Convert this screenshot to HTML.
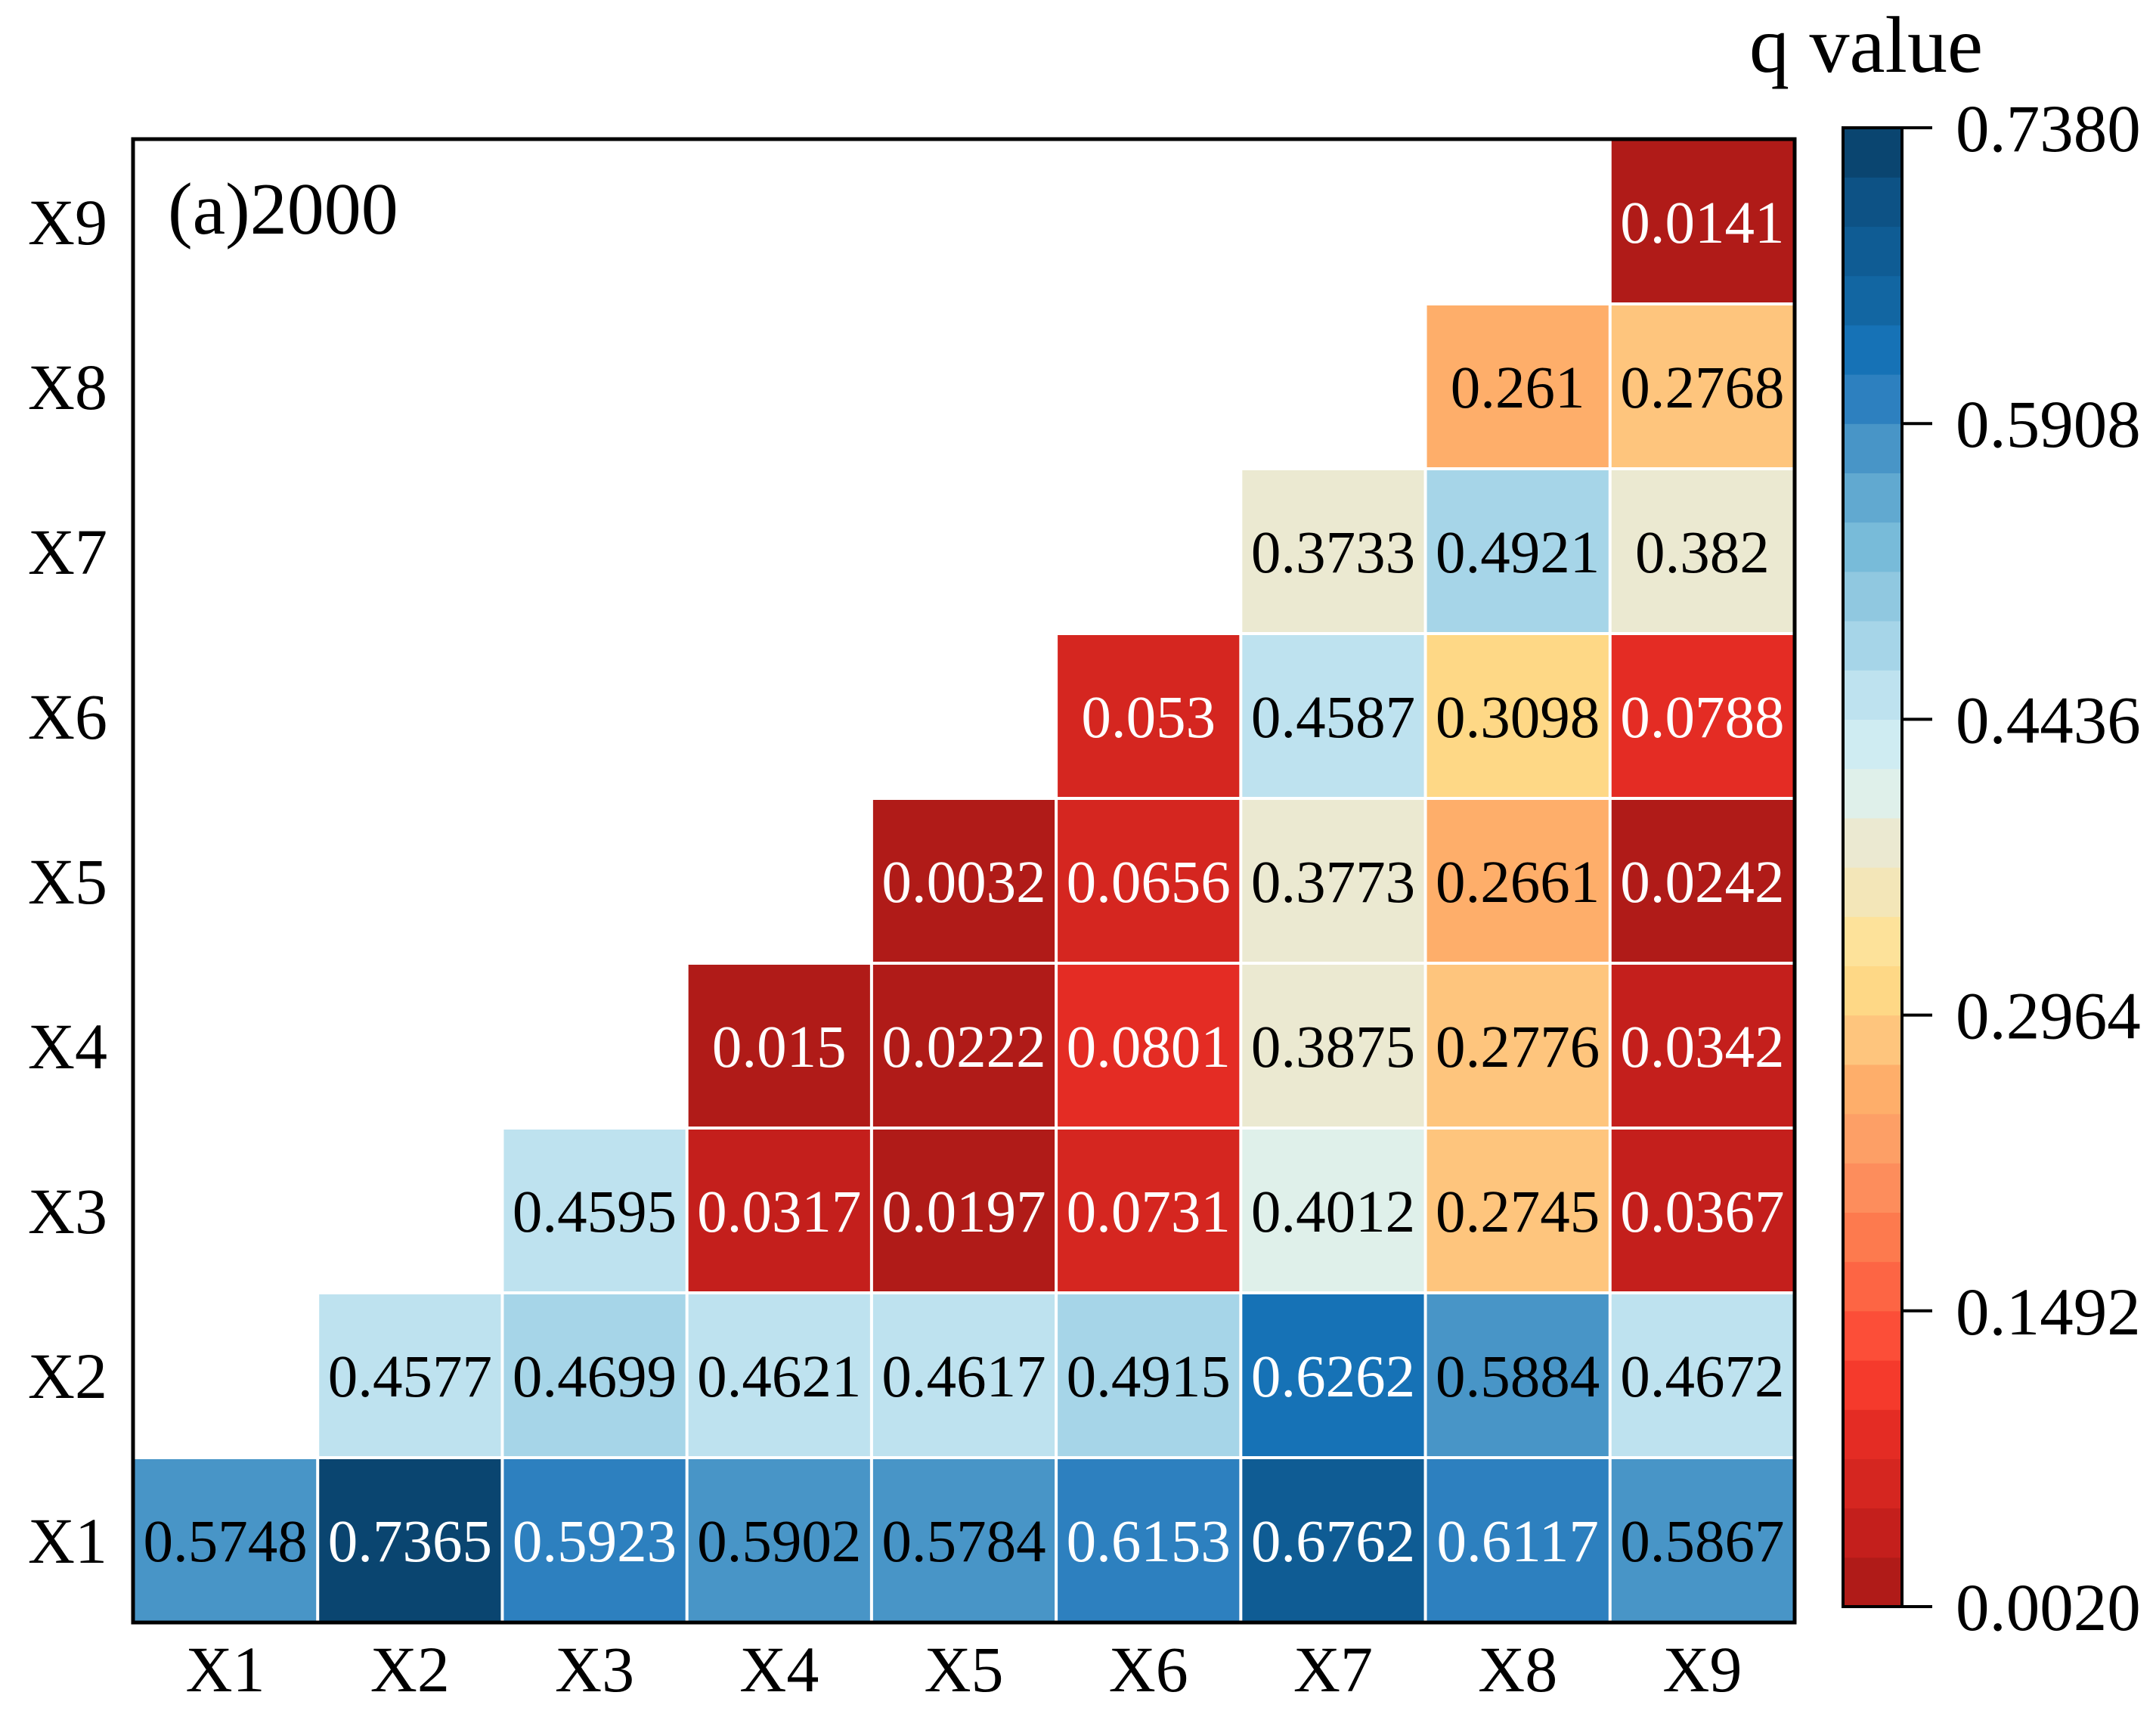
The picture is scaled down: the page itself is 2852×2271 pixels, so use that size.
<!DOCTYPE html>
<html><head><meta charset="utf-8"><style>
html,body{margin:0;padding:0;background:#fff;}
svg{display:block;font-family:"Liberation Serif",serif;}
</style></head><body>
<svg id="chart" width="2852" height="2271" viewBox="0 0 2852 2271">
<g id="cells"></g>
<rect x="176" y="184" width="2198" height="1962" fill="none" stroke="#000" stroke-width="5"/>
<text x="222" y="309" font-size="98">(a)2000</text>
<g id="ylabels"></g>
<g id="xlabels"></g>
<text x="2314" y="95" font-size="106">q value</text>
<g id="cbar"></g>
</svg>
<script>
const categories = ["X1","X2","X3","X4","X5","X6","X7","X8","X9"];
const rowX1 = [0.5748,0.7365,0.5923,0.5902,0.5784,0.6153,0.6762,0.6117,0.5867];
const rowX2 = [0.4577,0.4699,0.4621,0.4617,0.4915,0.6262,0.5884,0.4672];
const rowX3 = [0.4595,0.0317,0.0197,0.0731,0.4012,0.2745,0.0367];
const rowX4 = [0.015,0.0222,0.0801,0.3875,0.2776,0.0342];
const rowX5 = [0.0032,0.0656,0.3773,0.2661,0.0242];
const rowX6 = [0.053,0.4587,0.3098,0.0788];
const rowX7 = [0.3733,0.4921,0.382];
const rowX8 = [0.261,0.2768];
const rowX9 = [0.0141];
const rows = [rowX1,rowX2,rowX3,rowX4,rowX5,rowX6,rowX7,rowX8,rowX9];
const colorTicks = ["0.0020","0.1492","0.2964","0.4436","0.5908","0.7380"];
const vmin = 0.0020, vmax = 0.7380;

const palette = ["#b01b18","#c41f1c","#d52620","#e42c24","#f53a2c","#fc4e38","#fd6544","#fd7a4e","#fd8d5c","#fd9f66",
"#feae6a","#fec57d","#fed886","#fde29a","#f3e6b8","#ebe9d1","#dff0ea","#cfecf2","#bee2ef","#a6d5e8",
"#90c8e0","#78bbd9","#61a9d0","#4895c7","#2d80bf","#1672b6","#1266a2","#0f5c94","#0d5285","#0a4570"];
const NS = "http://www.w3.org/2000/svg";
const L=176,R=2374,T=184,B=2146;
const cw=(R-L)/9, rh=(B-T)/9;
const xPos = j => L + j*cw;
const yPos = i => B - (i+1)*rh;
function bin(v){let b=Math.floor((v-vmin)/(vmax-vmin)*30);return Math.max(0,Math.min(29,b));}

const cells=document.getElementById('cells');
rows.forEach((arr,i)=>{
  arr.forEach((v,k)=>{
    const j=i+k;
    const b=bin(v);
    const r=document.createElementNS(NS,'rect');
    r.setAttribute('x',xPos(j)+2);r.setAttribute('y',yPos(i)+2);
    r.setAttribute('width',cw-4);r.setAttribute('height',rh-4);
    r.setAttribute('fill',palette[b]);
    
    
    cells.appendChild(r);
    const t=document.createElementNS(NS,'text');
    t.setAttribute('x',xPos(j)+cw/2);t.setAttribute('y',yPos(i)+rh/2+28);
    t.setAttribute('text-anchor','middle');t.setAttribute('font-size','79');
    t.setAttribute('fill',(b<=5||b>=24)?'#fff':'#000');
    t.textContent=String(v);
    
    
    cells.appendChild(t);
  });
});
const yl=document.getElementById('ylabels'), xl=document.getElementById('xlabels');
categories.forEach((c,i)=>{
  const t=document.createElementNS(NS,'text');
  t.setAttribute('x',142);t.setAttribute('y',yPos(i)+rh/2+30);
  t.setAttribute('text-anchor','end');t.setAttribute('font-size','86');
  t.textContent=c;
  
  
  yl.appendChild(t);
  const u=document.createElementNS(NS,'text');
  u.setAttribute('x',xPos(i)+cw/2);u.setAttribute('y',2237);
  u.setAttribute('text-anchor','middle');u.setAttribute('font-size','86');
  u.textContent=c;
  
  
  xl.appendChild(u);
});
const cb=document.getElementById('cbar');
const CL=2438,CR=2516,CT=169,CB=2125;
const cbY = v => CB - (v-vmin)/(vmax-vmin)*(CB-CT);
for(let k=0;k<30;k++){
  const r=document.createElementNS(NS,'rect');
  const y0=CB-(k+1)*(CB-CT)/30;
  r.setAttribute('x',CL);r.setAttribute('y',y0);r.setAttribute('width',CR-CL);r.setAttribute('height',(CB-CT)/30+0.6);
  r.setAttribute('fill',palette[k]);
  
  
  cb.appendChild(r);
}
const fr=document.createElementNS(NS,'rect');
fr.setAttribute('x',CL);fr.setAttribute('y',CT);fr.setAttribute('width',CR-CL);fr.setAttribute('height',CB-CT);
fr.setAttribute('fill','none');fr.setAttribute('stroke','#000');fr.setAttribute('stroke-width','4');


cb.appendChild(fr);
colorTicks.forEach(s=>{
  const y=cbY(parseFloat(s));
  const l=document.createElementNS(NS,'line');
  l.setAttribute('x1',CR);l.setAttribute('x2',2556);l.setAttribute('y1',y);l.setAttribute('y2',y);
  l.setAttribute('stroke','#000');l.setAttribute('stroke-width','4');
  
  
  cb.appendChild(l);
  const t=document.createElementNS(NS,'text');
  t.setAttribute('x',2587);t.setAttribute('y',y+31);t.setAttribute('font-size','89');
  t.textContent=s;
  
  
  cb.appendChild(t);
});
</script>
</body></html>
